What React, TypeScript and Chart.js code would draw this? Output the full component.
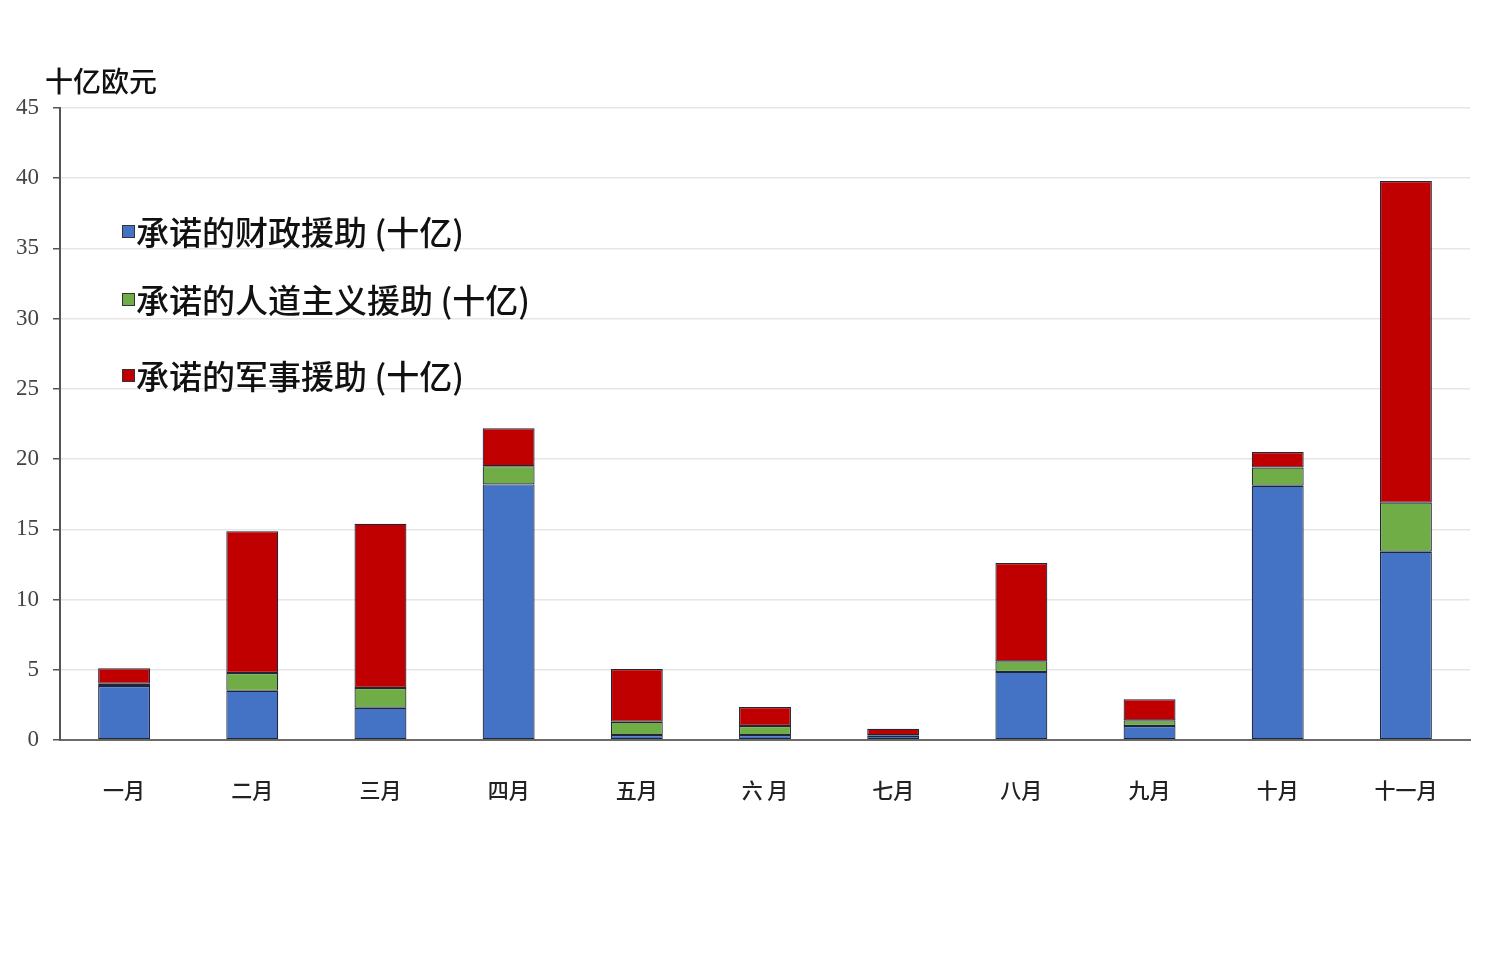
import React, { useEffect, useRef } from "react";
import { Chart, registerables } from "chart.js";

Chart.register(...registerables);

const months = ["一月", "二月", "三月", "四月", "五月", "六 月", "七月", "八月", "九月", "十月", "十一月"];
const financial = [3.85, 3.5, 2.3, 18.2, 0.35, 0.35, 0.3, 4.85, 1.0, 18.1, 13.4];
const humanitarian = [0.15, 1.27, 1.4, 1.3, 0.95, 0.65, 0.05, 0.75, 0.4, 1.3, 3.5];
const military = [1.1, 10.1, 11.7, 2.7, 3.75, 1.35, 0.45, 7.0, 1.5, 1.1, 22.9];
const seriesNames = ["承诺的财政援助 (十亿)", "承诺的人道主义援助 (十亿)", "承诺的军事援助 (十亿)"];
const seriesColors = ["#4472C4", "#70AD47", "#C00000"];
const yTitle = "十亿欧元";

const CJK = '"Noto Sans CJK SC", "Noto Sans", sans-serif';

export default function App() {
  const ref = useRef<HTMLCanvasElement | null>(null);
  useEffect(() => {
    if (!ref.current) return;
    const values = [financial, humanitarian, military];
    const chart = new Chart(ref.current, {
      type: "bar",
      data: {
        labels: months,
        datasets: values.map((d, i) => ({
          label: seriesNames[i],
          data: d,
          backgroundColor: seriesColors[i],
          borderColor: "#1f2638",
          borderWidth: 1.2,
          borderSkipped: false,
          barPercentage: 0.405,
          categoryPercentage: 1,
        })),
      },
      options: {
        animation: false,
        responsive: false,
        maintainAspectRatio: false,
        layout: { padding: { left: 0, right: 10, top: 100, bottom: 142 } },
        plugins: { legend: { display: false }, tooltip: { enabled: false } },
        scales: {
          x: {
            stacked: true,
            grid: { display: false, drawTicks: false },
            border: { display: true, color: "#6b6b6b", width: 2 },
            ticks: { color: "#222", font: { family: CJK, size: 21, weight: 500 }, padding: 37, maxRotation: 0 },
            afterFit: (s: any) => { s.height = 80; },
          },
          y: {
            stacked: true,
            min: 0,
            max: 45,
            ticks: { stepSize: 5, color: "#444", font: { family: '"Liberation Serif", serif', size: 23 }, padding: 14 },
            grid: { color: "#e6e6e6", lineWidth: 1.5, tickLength: 7, tickColor: "#555" },
            border: { display: true, color: "#555", width: 2 },
            afterFit: (s: any) => { s.width = 52; },
          },
        },
      },
    });
    return () => chart.destroy();
  }, []);

  const legendTops = [231, 299, 375];
  return (
    <div style={{ position: "relative", width: 1472, height: 954 }}>
      <canvas ref={ref} width={1472} height={954} style={{ display: "block" }} />
      <div style={{ position: "absolute", left: 37, top: 80 - 8 - 18, fontFamily: CJK, fontSize: 28, fontWeight: 500, color: "#111", lineHeight: "36px" }}>
        {yTitle}
      </div>
      {seriesNames.map((n, i) => (
        <div key={n} style={{ position: "absolute", left: 114, top: legendTops[i] - 8 - 22, height: 44, display: "flex", alignItems: "center", fontFamily: CJK, fontSize: 33, fontWeight: 500, color: "#111", whiteSpace: "nowrap" }}>
          <span style={{ display: "inline-block", width: 11, height: 11, background: seriesColors[i], border: "1px solid #333", marginRight: 1 }} />
          <span>{n}</span>
        </div>
      ))}
    </div>
  );
}
